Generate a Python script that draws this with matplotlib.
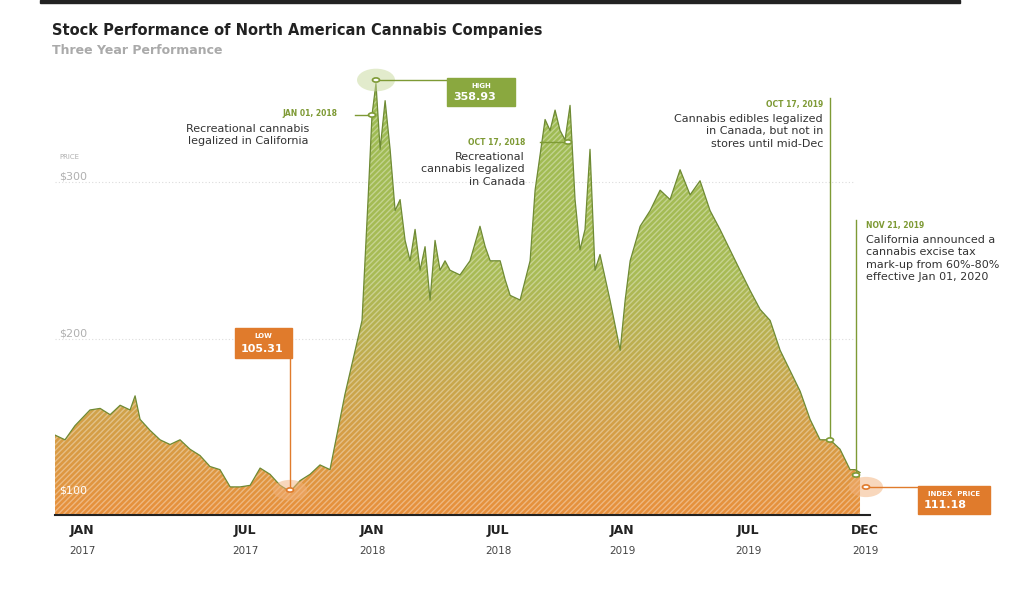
import numpy as np
import matplotlib
matplotlib.use("Agg")
import matplotlib.pyplot as plt
from matplotlib.colors import LinearSegmentedColormap
from matplotlib.patches import Circle, Rectangle

# month index (Jan 2018 = 12)
months_raw = [-1.3,-0.82,-0.34,0.38,0.87,1.35,1.83,2.31,2.55,2.79,3.27,3.75,4.23,4.71,5.19,5.67,6.15,6.63,7.12,7.6,
              8.08,8.56,9.04,9.52,10.0,10.48,10.96,11.44,11.92,12.16,12.64,13.13,13.46,13.75,13.94,14.13,14.33,14.57,
              14.81,15.05,15.29,15.53,15.77,16.01,16.25,16.49,16.73,16.97,17.21,17.45,17.69,18.17,18.65,19.13,19.38,
              19.62,20.1,20.34,20.58,21.06,21.54,21.78,22.26,22.5,22.74,22.98,23.22,23.46,23.7,23.94,24.18,24.42,
              24.66,24.9,25.38,25.87,26.11,26.35,26.83,27.31,27.79,28.27,28.75,29.23,29.71,30.19,30.67,31.15,31.63,
              32.12,32.6,33.08,33.56,34.04,34.52,35.0,35.48,35.96,36.44,36.92,37.16,37.4]
prices = [135,132,141,151,152,148,154,151,160,145,138,132,129,132,126,122,115,113,102,102,
          103,114,110,103,99,106,110,116,113,129,161,189,208,285,339,358.93,317,348,
          317,278,285,259,246,266,240,255,221,259,240,246,240,237,246,268,255,
          246,246,234,224,221,246,291,336,329,342,329,323,345,285,253,266,317,
          240,250,221,189,221,246,268,278,291,285,304,288,297,278,266,253,240,
          227,215,208,189,176,163,145,132,132,126,113,113,111.18]
months = np.array(months_raw) - 1.94
prices = np.array(prices, dtype=float)

tick_pos = [-1.94, 5.9, 12, 18.06, 24.02, 30.08, 35.7]
tick_top = ["JAN", "JUL", "JAN", "JUL", "JAN", "JUL", "DEC"]
tick_bot = ["2017", "2017", "2018", "2018", "2019", "2019", "2019"]
grid_vals = [100, 200, 300]
grid_labels = ["$100", "$200", "$300"]

W, H = 1024, 610
fig = plt.figure(figsize=(W/100, H/100), dpi=100)
fig.patch.set_facecolor("white")
ax = fig.add_axes([55/W, 1-515/H, (870-55)/W, (515-60)/H])
ymin, ymax = 84.1, 373.9
xmin, xmax = -3.24, 35.94
ax.set_xlim(xmin, xmax); ax.set_ylim(ymin, ymax)
for s in ax.spines.values(): s.set_visible(False)
ax.set_xticks([]); ax.set_yticks([])

for v, l in zip(grid_vals, grid_labels):
    ax.plot([xmin, 35.2], [v - 4, v - 4], color="#dcdcdc", lw=0.8, ls=(0, (1, 2)), zorder=1)
    ax.text(xmin + 0.2, v, l, color="#b0b0b0" if v > 150 else "white", fontsize=8, va="center", ha="left", zorder=6)
ax.text(xmin + 0.2, 312, "PRICE", color="#b0b0b0", fontsize=5, va="center", ha="left")

cmap = LinearSegmentedColormap.from_list("g", [(0, "#e8903c"), (0.25, "#cfa34a"), (0.55, "#a9bb56"), (1, "#9cbc52")])
poly = ax.fill_between(months, ymin, prices, facecolor="none", edgecolor="none", zorder=2)
grad = np.linspace(0, 1, 256).reshape(-1, 1)
im = ax.imshow(grad, aspect="auto", cmap=cmap, origin="lower",
               extent=[xmin, xmax, ymin, 360], zorder=2)
im.set_clip_path(poly.get_paths()[0], transform=ax.transData)
ax.fill_between(months, ymin, prices, facecolor="none", edgecolor=(1, 1, 1, 0.35),
                hatch="//////", linewidth=0, zorder=3)
ax.plot(months, prices, color="#6e8a34", lw=0.9, zorder=4)
ax.plot([xmin, xmax], [ymin, ymin], color="#222222", lw=1.5, clip_on=False, zorder=5)

for p, a, b in zip(tick_pos, tick_top, tick_bot):
    ax.text(p, ymin - 6, a, ha="center", va="top", fontsize=9, fontweight="bold", color="#222222", clip_on=False)
    ax.text(p, ymin - 20, b, ha="center", va="top", fontsize=7.5, color="#444444", clip_on=False)

def F(px, py): return (px/W, 1-py/H)
def line(pts, c):
    xs = [p[0]/W for p in pts]; ys = [1-p[1]/H for p in pts]
    fig.add_artist(plt.Line2D(xs, ys, color=c, lw=1, transform=fig.transFigure, zorder=10))
def dot(px, py, c, big=None, bigc=None):
    if big:
        fig.add_artist(Circle(F(px, py), big/W, transform=fig.transFigure, color=bigc, alpha=0.5, zorder=9, ec="none"))
    fig.add_artist(Circle(F(px, py), 3.5/W, transform=fig.transFigure, fc="white", ec=c, lw=1.2, zorder=11))
def txt(px, py, s, **kw):
    fig.text(px/W, 1-py/H, s, **kw)
def box(x0, y0, x1, y1, c, label, val):
    fig.add_artist(Rectangle(F(x0, y1), (x1-x0)/W, (y1-y0)/H, transform=fig.transFigure, color=c, zorder=10))
    txt((x0+x1)/2, y0+8, label, ha="center", va="center", fontsize=5, color="white", fontweight="bold", zorder=12)
    txt(x0+6, y1-9, val, ha="left", va="center", fontsize=8, color="white", fontweight="bold", zorder=12)

G = "#7e9a35"; O = "#e07b2c"
line([(355, 115), (372, 115)], G); dot(372, 115, G)
txt(337, 114, "JAN 01, 2018", ha="right", va="center", fontsize=5.5, color=G, fontweight="bold")
txt(309, 124, "Recreational cannabis\nlegalized in California", ha="right", va="top", fontsize=8, color="#333333", linespacing=1.3)

line([(376, 80), (447, 80)], G); dot(376, 80, G, big=19, bigc="#c7d99a")
box(447, 78, 515, 106, "#8aa83f", "HIGH", "358.93")

line([(540, 142), (568, 142)], G); dot(568, 142, G)
txt(525, 142, "OCT 17, 2018", ha="right", va="center", fontsize=5.5, color=G, fontweight="bold")
txt(525, 152, "Recreational\ncannabis legalized\nin Canada", ha="right", va="top", fontsize=8, color="#333333", linespacing=1.3)

line([(830, 98), (830, 440)], G); dot(830, 440, G)
txt(823, 104, "OCT 17, 2019", ha="right", va="center", fontsize=5.5, color=G, fontweight="bold")
txt(823, 114, "Cannabis edibles legalized\nin Canada, but not in\nstores until mid-Dec", ha="right", va="top", fontsize=8, color="#333333", linespacing=1.3)

line([(856, 220), (856, 475)], G); dot(856, 475, G)
txt(866, 225, "NOV 21, 2019", ha="left", va="center", fontsize=5.5, color=G, fontweight="bold")
txt(866, 235, "California announced a\ncannabis excise tax\nmark-up from 60%-80%\neffective Jan 01, 2020", ha="left", va="top", fontsize=8, color="#333333", linespacing=1.3)

line([(290, 490), (290, 344), (280, 344)], O); dot(290, 490, O, big=17, bigc="#f2b17a")
box(235, 328, 292, 358, O, "LOW", "105.31")

line([(866, 487), (918, 487)], O); dot(866, 487, O, big=17, bigc="#f2b17a")
box(918, 486, 990, 514, O, "INDEX  PRICE", "111.18")

fig.add_artist(Rectangle((40/W, 1-3/H), 920/W, 3/H, transform=fig.transFigure, color="#222222"))
txt(52, 30, "Stock Performance of North American Cannabis Companies", fontsize=10.5, fontweight="bold", color="#222222", va="center")
txt(52, 51, "Three Year Performance", fontsize=9, color="#aaaaaa", fontweight="bold", va="center")

fig.savefig("out.png", dpi=100)
